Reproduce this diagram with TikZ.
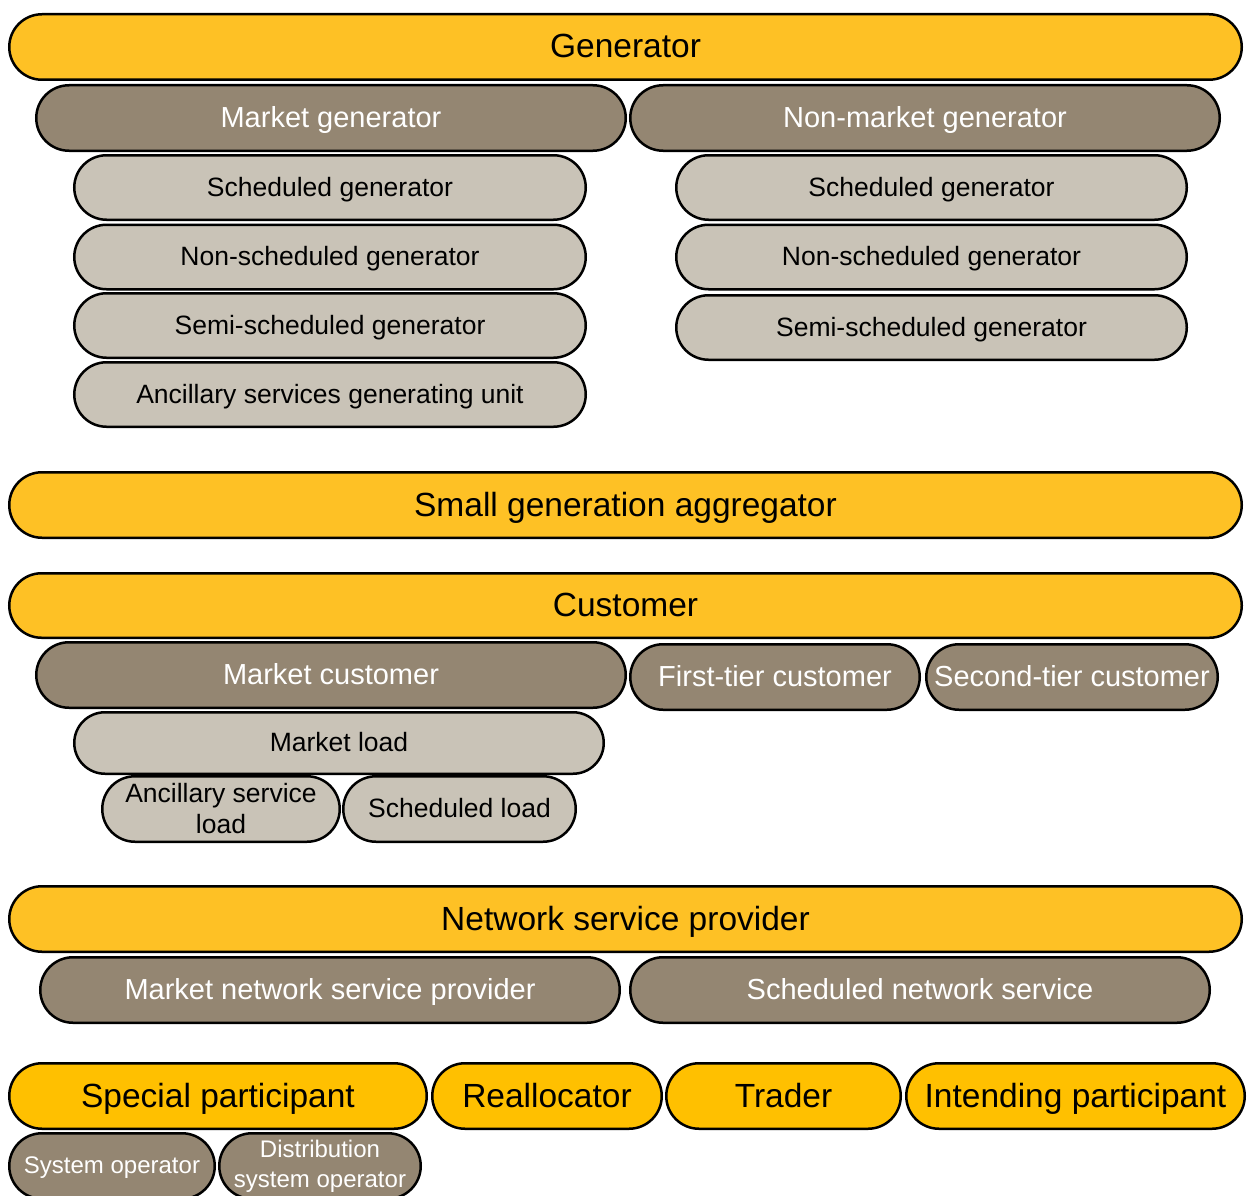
\documentclass[tikz,border=0pt]{standalone}
\usepackage{fontspec}
\setmainfont{Liberation Sans}
\usetikzlibrary{shapes.misc}
\definecolor{gold}{HTML}{FEC125}
\definecolor{goldb}{HTML}{FFC000}
\definecolor{brownbox}{HTML}{948672}
\definecolor{lightbox}{HTML}{C9C3B7}
\tikzset{
  pill/.style={rounded rectangle, draw=black, line width=2.5pt, inner sep=0pt, align=center},
  oneline/.style={text height=#1, text depth=2pt},
  yel/.style={pill, oneline=24pt, fill=gold, text=black, font=\fontsize{33.5}{40}\selectfont},
  yelb/.style={pill, oneline=24pt, fill=goldb, text=black, font=\fontsize{33.5}{40}\selectfont},
  brn/.style={pill, oneline=20.8pt, fill=brownbox, text=white, font=\fontsize{29}{34}\selectfont},
  brns/.style={pill, oneline=17.2pt, fill=brownbox, text=white, font=\fontsize{24}{30}\selectfont},
  brnstwo/.style={pill, fill=brownbox, text=white, font=\fontsize{24}{30}\selectfont},
  lgt/.style={pill, oneline=19pt, fill=lightbox, text=black, font=\fontsize{26.5}{31}\selectfont},
  lgttwo/.style={pill, fill=lightbox, text=black, font=\fontsize{26.5}{31}\selectfont},
  wh/.style 2 args={minimum width=#1pt-2.5pt, minimum height=#2pt-2.5pt}
}
\begin{document}
\begin{tikzpicture}[x=1pt,y=-1pt]
\useasboundingbox (0,0) rectangle (1247,1196);
\clip (0,0) rectangle (1247,1196);
% Generator
\node[yel, wh={1235}{68}] (gen) at (625.5,47) {Generator};
\node[brn, wh={592}{68}] (mgen) at (331,118) {Market generator};
\node[brn, wh={592}{68}] (nmgen) at (925,118) {Non-market generator};
\node[lgt, wh={514}{67}] (m1) at (330,187.5) {Scheduled generator};
\node[lgt, wh={514}{67}] (m2) at (330,257) {Non-scheduled generator};
\node[lgt, wh={514}{67}] (m3) at (330,325.5) {Semi-scheduled generator};
\node[lgt, wh={514}{67}] (m4) at (330,394.5) {Ancillary services generating unit};
\node[lgt, wh={513}{67}] (n1) at (931.5,187.5) {Scheduled generator};
\node[lgt, wh={513}{67}] (n2) at (931.5,257) {Non-scheduled generator};
\node[lgt, wh={513}{67}] (n3) at (931.5,327.5) {Semi-scheduled generator};
% Aggregator
\node[yel, wh={1235}{68}] (sga) at (625.5,505) {Small generation aggregator};
% Customer
\node[yel, wh={1235}{67}] (cust) at (625.5,605.5) {Customer};
\node[brn, wh={592}{68}] (mcust) at (331,675) {Market customer};
\node[brn, wh={292}{68}] (ftc) at (775,677) {First-tier customer};
\node[brn, wh={294}{68}] (stc) at (1072,677) {Second-tier customer};
\node[lgt, wh={532}{64}] (mload) at (339,743) {Market load};
\node[lgttwo, wh={240}{68}] (asl) at (221,809) {Ancillary service\\load};
\node[lgt, wh={235}{68}] (sload) at (459.5,809) {Scheduled load};
% Network service provider
\node[yel, wh={1235}{68}] (nsp) at (625.5,919) {Network service provider};
\node[brn, wh={582}{68}] (mnsp) at (330,990) {Market network service provider};
\node[brn, wh={582}{68}] (sns) at (920,990) {Scheduled network service};
% Bottom row
\node[yelb, wh={420}{68}] (sp) at (218,1096) {Special participant};
\node[yelb, wh={232}{68}] (realloc) at (547,1096) {Reallocator};
\node[yelb, wh={237}{68}] (trader) at (783.5,1096) {Trader};
\node[yelb, wh={341}{68}] (ip) at (1075.5,1096) {Intending participant};
\node[brns, wh={208}{68}] (so) at (112,1166) {System operator};
\node[brnstwo, wh={204}{68}] (dso) at (320,1166) {Distribution\\system operator};
\end{tikzpicture}
\end{document}
